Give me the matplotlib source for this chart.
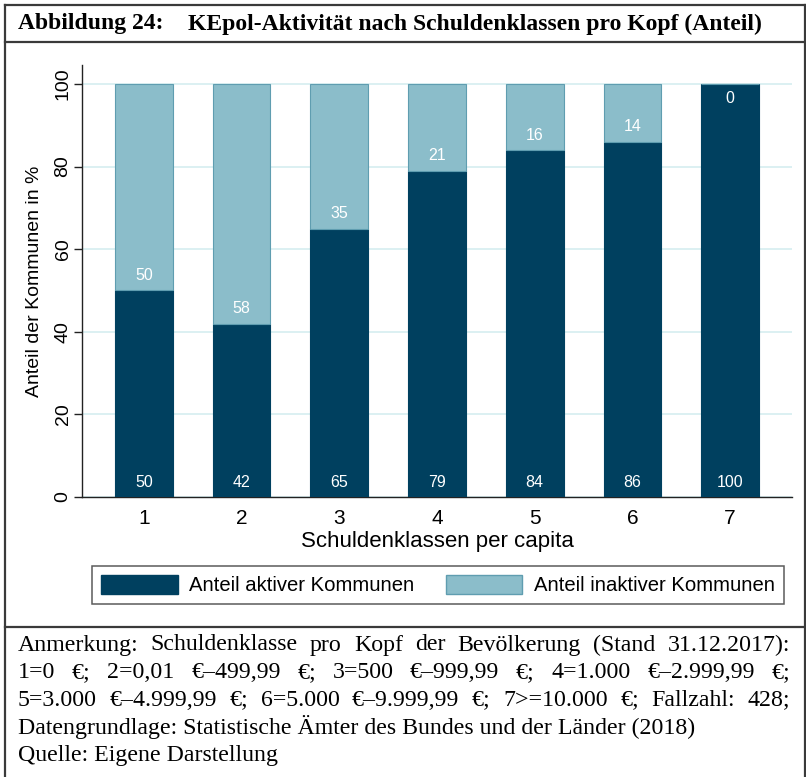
import matplotlib
matplotlib.use("Agg")
import matplotlib.pyplot as plt
from matplotlib.lines import Line2D
from matplotlib.patches import Patch

# ---- data ----
categories = ["1", "2", "3", "4", "5", "6", "7"]
aktiv = [50, 42, 65, 79, 84, 86, 100]
inaktiv = [50, 58, 35, 21, 16, 14, 0]
yticks = [0, 20, 40, 60, 80, 100]

title_num = "Abbildung 24:"
title_txt = "KEpol-Aktivität nach Schuldenklassen pro Kopf (Anteil)"
xlabel = "Schuldenklassen per capita"
ylabel = "Anteil der Kommunen in %"
legend_labels = ["Anteil aktiver Kommunen", "Anteil inaktiver Kommunen"]
note_lines = [
    "Anmerkung: Schuldenklasse pro Kopf der Bevölkerung (Stand 31.12.2017):",
    "1=0 €; 2=0,01 €–499,99 €; 3=500 €–999,99 €; 4=1.000 €–2.999,99 €;",
    "5=3.000 €–4.999,99 €; 6=5.000 €–9.999,99 €; 7>=10.000 €; Fallzahl: 428;",
    "Datengrundlage: Statistische Ämter des Bundes und der Länder (2018)",
    "Quelle: Eigene Darstellung",
]
justified = [True, True, True, False, False]

DARK = "#00405f"
LIGHT = "#8bbdca"
LIGHT_EDGE = "#5f9db0"
GRID = "#d6edf0"

W, H = 806, 777
fig = plt.figure(figsize=(W / 100, H / 100), dpi=100)
SANS = ["Liberation Sans", "DejaVu Sans"]
SERIF = ["Liberation Serif", "DejaVu Serif"]

def fx(px):
    return px / W

def fy(py):
    return 1 - py / H

# ---- frame lines ----
lc = "#3a3a3a"
for (x0, y0, x1, y1) in [(5, 5, 805, 5), (5, 5, 5, 777), (805, 5, 805, 777),
                         (5, 42, 805, 42), (5, 627, 805, 627)]:
    fig.add_artist(Line2D([fx(x0), fx(x1)], [fy(y0), fy(y1)], color=lc, lw=1.6,
                          transform=fig.transFigure))

# ---- title ----
fig.text(fx(18), fy(24), title_num, family=SERIF, weight="bold", fontsize=17,
         va="center", ha="left")
fig.text(fx(188), fy(24), title_txt, family=SERIF, weight="bold", fontsize=17,
         va="center", ha="left")

# ---- axes ----
ax = fig.add_axes([fx(82), fy(497), fx(792) - fx(82), fy(65) - fy(497)])
x = list(range(1, len(categories) + 1))
bw = 0.59
ax.bar(x, aktiv, width=bw, color=DARK, edgecolor=DARK, lw=0.8, zorder=3,
       label=legend_labels[0])
ax.bar(x, inaktiv, width=bw, bottom=aktiv, color=LIGHT, edgecolor=LIGHT_EDGE, lw=0.8,
       zorder=3, label=legend_labels[1])

for xi, a, i in zip(x, aktiv, inaktiv):
    ax.text(xi, 3.6, f"{a}", color="white", ha="center", va="center",
            family=SANS, fontsize=11.5, zorder=4)
    ypos = a + 3.6 if i > 0 else a - 3.4
    ax.text(xi, ypos, f"{i}", color="white", ha="center", va="center",
            family=SANS, fontsize=11.5, zorder=4)

ax.set_xlim(0.366, 7.634)
ax.set_ylim(0, 104.6)
ax.set_xticks(x)
ax.set_xticklabels(categories, family=SANS, fontsize=15)
ax.set_yticks(yticks)
ax.set_yticklabels([str(v) for v in yticks], family=SANS, fontsize=14,
                   rotation=90, va="center")
ax.tick_params(axis="x", length=0, pad=9)
ax.tick_params(axis="y", length=6, width=1, pad=1.5, color="#222222")
ax.grid(axis="y", color=GRID, lw=1.2, zorder=0)
for s in ["top", "right"]:
    ax.spines[s].set_visible(False)
for s in ["left", "bottom"]:
    ax.spines[s].set_color("#222222")
    ax.spines[s].set_linewidth(1)
ax.set_xlabel(xlabel, family=SANS, fontsize=16, labelpad=2)
ax.set_ylabel(ylabel, family=SANS, fontsize=14, labelpad=8)

handles = [Patch(facecolor=DARK, edgecolor=DARK), Patch(facecolor=LIGHT, edgecolor=LIGHT_EDGE)]
leg = fig.legend(handles, legend_labels, loc="center",
                 bbox_to_anchor=(fx(438), fy(585)),
                 ncol=2, prop={"family": SANS, "size": 14.6},
                 handlelength=3.75, handleheight=1.05, frameon=True, fancybox=False,
                 borderaxespad=0, borderpad=0.45, handletextpad=0.55, columnspacing=1.6)
leg.get_frame().set_edgecolor("#333333")
leg.get_frame().set_linewidth(1.1)

# ---- note, justified ----
fig.canvas.draw()
renderer = fig.canvas.get_renderer()
left_px, right_px = 18, 790
line_y = [645, 673, 700, 727, 755]
note_fs = 17.2
for line, jus, py in zip(note_lines, justified, line_y):
    if not jus:
        fig.text(fx(left_px), fy(py), line, family=SERIF, fontsize=note_fs,
                 va="center", ha="left")
        continue
    words = line.split(" ")
    txts = [fig.text(0, fy(py), w, family=SERIF, fontsize=note_fs, va="center", ha="left")
            for w in words]
    widths = [t.get_window_extent(renderer).width for t in txts]
    gap = (right_px - left_px - sum(widths)) / (len(words) - 1)
    cur = left_px
    for t, wd in zip(txts, widths):
        t.set_x(fx(cur))
        cur += wd + gap

fig.savefig("out.png", dpi=100)
